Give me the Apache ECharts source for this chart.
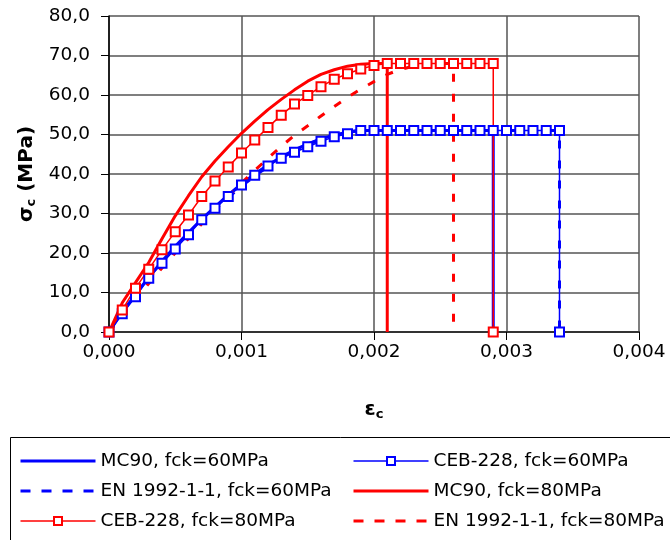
<!DOCTYPE html>
<html><head><meta charset="utf-8">
<script src="https://cdn.jsdelivr.net/npm/echarts@6/dist/echarts.min.js"></script>
<style>html,body{margin:0;padding:0;background:#fff}#c{width:670px;height:540px}</style>
</head><body><div id="c"></div>
<script>
const xTickLabels = ['0,000','0,001','0,002','0,003','0,004'];
const yTickLabels = ['0,0','10,0','20,0','30,0','40,0','50,0','60,0','70,0','80,0'];

const seriesNames = ['MC90, fck=60MPa','CEB-228, fck=60MPa','EN 1992-1-1, fck=60MPa','MC90, fck=80MPa','CEB-228, fck=80MPa','EN 1992-1-1, fck=80MPa'];

const strainMC60 = [0,0.0001,0.0002,0.0003,0.0004,0.0005,0.0006,0.0007,0.0008,0.0009,0.0010,0.0011,0.0012,0.0013,0.0014,0.0015,0.0016,0.0017,0.0018,0.0019,0.0020,0.0029,0.0029];
const stressMC60 = [0,5.0,9.5,13.9,17.9,21.7,25.2,28.6,31.7,34.7,37.5,40.0,42.3,44.3,46.1,47.6,48.9,49.9,50.6,51.0,51.0,51.0,0];

const strainCEB60 = [0,0.0001,0.0002,0.0003,0.0004,0.0005,0.0006,0.0007,0.0008,0.0009,0.0010,0.0011,0.0012,0.0013,0.0014,0.0015,0.0016,0.0017,0.0018,0.0019,0.0020,0.0021,0.0022,0.0023,0.0024,0.0025,0.0026,0.0027,0.0028,0.0029,0.0030,0.0031,0.0032,0.0033,0.0034,0.0034];
const stressCEB60 = [0,4.6,8.9,13.6,17.4,21.0,24.6,28.4,31.3,34.3,37.2,39.7,42.0,44.0,45.5,46.9,48.3,49.4,50.2,51.0,51.0,51.0,51.0,51.0,51.0,51.0,51.0,51.0,51.0,51.0,51.0,51.0,51.0,51.0,51.0,0];

const strainEN60 = [0,0.0001,0.0002,0.0003,0.0004,0.0005,0.0006,0.0007,0.0008,0.0009,0.0010,0.0011,0.0012,0.0013,0.0014,0.0015,0.0016,0.0017,0.0018,0.0019,0.0020,0.0034,0.0034];
const stressEN60 = [0,4.3,8.6,12.9,16.9,20.7,24.3,27.8,31.0,34.0,36.9,39.5,41.9,44.0,45.9,47.5,48.9,50.0,50.7,51.0,51.0,51.0,0];

const strainMC80 = [0,0.0001,0.0002,0.0003,0.0004,0.0005,0.0006,0.0007,0.0008,0.0009,0.0010,0.0011,0.0012,0.0013,0.0014,0.0015,0.0016,0.0017,0.0018,0.0019,0.0020,0.0021,0.0021];
const stressMC80 = [0,7.4,12.5,17.6,23.6,29.4,34.5,39.3,43.3,46.9,50.3,53.4,56.3,58.9,61.3,63.5,65.2,66.4,67.3,67.8,68.0,68.0,0];

const strainCEB80 = [0,0.0001,0.0002,0.0003,0.0004,0.0005,0.0006,0.0007,0.0008,0.0009,0.0010,0.0011,0.0012,0.0013,0.0014,0.0015,0.0016,0.0017,0.0018,0.0019,0.0020,0.0021,0.0022,0.0023,0.0024,0.0025,0.0026,0.0027,0.0028,0.0029,0.0029];
const stressCEB80 = [0,5.6,11.1,15.9,20.8,25.4,29.6,34.3,38.2,41.8,45.3,48.6,51.8,54.9,57.7,59.9,62.1,64.0,65.4,66.6,67.5,68.0,68.0,68.0,68.0,68.0,68.0,68.0,68.0,68.0,0];

const strainEN80 = [0,0.0001,0.0002,0.0003,0.0004,0.0005,0.0006,0.0007,0.0008,0.0009,0.0010,0.0011,0.0012,0.0013,0.0014,0.0015,0.0016,0.0017,0.0018,0.0019,0.0020,0.0021,0.0022,0.0023,0.0024,0.0025,0.0026,0.0026];
const stressEN80 = [0,4.2,8.3,12.3,16.2,20.0,23.7,27.4,30.9,34.3,37.7,40.9,44.0,47.0,49.8,52.2,54.7,57.1,59.4,61.5,63.4,65.2,66.5,67.3,67.8,68.0,68.0,0];

const FONT = 'DejaVu Sans';
const BLUE = '#0000ff', RED = '#ff0000';
const DASH = [8, 12];
const pairs = (xs, ys) => xs.map((x, i) => [x, ys[i]]);

function solid(name, xs, ys, color) {
  return {name, type:'line', data:pairs(xs, ys), symbol:'none', lineStyle:{color, width:3}, itemStyle:{color}};
}
function marked(name, xs, ys, color) {
  return {name, type:'line', data:pairs(xs, ys), symbol:'emptyRect', symbolSize:9, showAllSymbol:true,
    lineStyle:{color, width:1.5}, itemStyle:{color, borderColor:color, borderWidth:1.5}};
}
function dashed(name, xs, ys, color) {
  return {name, type:'line', data:pairs(xs, ys), symbol:'none', lineStyle:{color, width:3, type:DASH}, itemStyle:{color}};
}

const legSolid = name => ({name, itemStyle:{opacity:0}, lineStyle:{width:3}});
const legDash = name => ({name, itemStyle:{opacity:0}, lineStyle:{width:3, type:[10,11]}});
const legMark = name => ({name, lineStyle:{width:1.5}, itemStyle:{borderWidth:1.5}});

const chart = echarts.init(document.getElementById('c'), null, {renderer:'canvas'});
const legendCommon = {orient:'vertical', itemWidth:75, itemHeight:10, itemGap:10, padding:0,
  textStyle:{fontFamily:FONT, fontSize:18.5, color:'#000', lineHeight:20}};
const richName = {s:{fontFamily:FONT, fontWeight:'bold', fontSize:20, lineHeight:22, color:'#000'},
  sub:{fontFamily:FONT, fontWeight:'bold', fontSize:13, color:'#000', verticalAlign:'bottom', lineHeight:14}};
chart.setOption({
  animation:false,
  backgroundColor:'#fff',
  grid:{left:109, right:31, top:16, bottom:208},
  xAxis:{type:'value', min:0, max:0.004, interval:0.001,
    name:'{s|ε}{sub|c}', nameLocation:'middle', nameGap:67,
    nameTextStyle:{rich:richName},
    axisLine:{lineStyle:{color:'#333', width:2}},
    axisTick:{length:8, lineStyle:{color:'#000', width:1}},
    axisLabel:{margin:11, fontFamily:FONT, fontSize:18.5, color:'#000', formatter:(v, i) => xTickLabels[i]},
    splitLine:{show:true, lineStyle:{color:'#555', width:1.5}}},
  yAxis:{type:'value', min:0, max:80, interval:10,
    name:'{s|σ}{sub|c}{s| (MPa)}', nameLocation:'middle', nameGap:71,
    nameTextStyle:{rich:richName},
    axisLine:{show:true, lineStyle:{color:'#000', width:1.5}},
    axisTick:{show:true, length:8, lineStyle:{color:'#000', width:1}},
    axisLabel:{margin:19, fontFamily:FONT, fontSize:18.5, color:'#000', formatter:(v, i) => yTickLabels[i]},
    splitLine:{show:true, lineStyle:{color:'#555', width:1.5}}},
  legend:[
    Object.assign({left:19, top:451, data:[legSolid(seriesNames[0]), legDash(seriesNames[2]), legMark(seriesNames[4])]}, legendCommon),
    Object.assign({left:352, top:451, data:[legMark(seriesNames[1]), legSolid(seriesNames[3]), legDash(seriesNames[5])]}, legendCommon)
  ],
  graphic:[{type:'rect', shape:{x:10.5, y:437.5, width:700, height:200}, style:{fill:'none', stroke:'#000', lineWidth:1}, z:-1}],
  series:[
    solid(seriesNames[0], strainMC60, stressMC60, BLUE),
    marked(seriesNames[1], strainCEB60, stressCEB60, BLUE),
    dashed(seriesNames[2], strainEN60, stressEN60, BLUE),
    solid(seriesNames[3], strainMC80, stressMC80, RED),
    marked(seriesNames[4], strainCEB80, stressCEB80, RED),
    dashed(seriesNames[5], strainEN80, stressEN80, RED)
  ]
});
</script></body></html>
